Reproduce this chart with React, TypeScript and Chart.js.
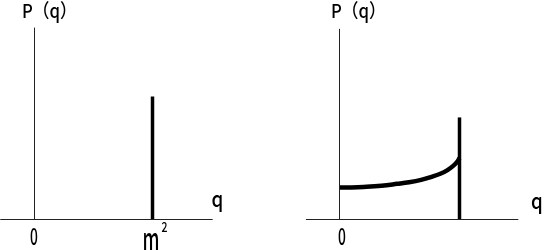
import React, { useEffect, useRef } from "react";
import { Chart, registerables } from "chart.js";
Chart.register(...registerables);

// ---- data (q in units where the spike sits at q = 1, P in arbitrary units) ----
// left panel: single spike at q = m^2
const leftSpikeQ = [1, 1];
const leftSpikeP = [0, 1];
const leftAxisQ = [-0.29, 1.51]; // horizontal axis extent
const leftAxisP = [0, 1.56]; // vertical axis extent

// right panel: continuous part + spike at the end
const curveQ = [0, 0.1, 0.2, 0.35, 0.48, 0.58, 0.68, 0.76, 0.84, 0.9, 0.95, 0.98, 1];
const curveP = [0.26, 0.261, 0.265, 0.275, 0.29, 0.303, 0.322, 0.345, 0.372, 0.402, 0.438, 0.468, 0.5];
const rightSpikeQ = [1, 1];
const rightSpikeP = [0, 0.83];
const rightAxisQ = [-0.28, 1.49];
const rightAxisP = [0, 1.55];

// text
const yAxisTitle = "P（q）";
const xAxisTitle = "q";
const zeroLabel = "0";
const spikeLabel = "m";
const superscript = "2";

type Label = {
  text: string;
  x: number; // pixel x in panel
  y: number; // baseline pixel y
  size: number;
  sx?: number;
  align?: CanvasTextAlign;
};

const labelPlugin = {
  id: "labels",
  afterDraw(chart: any) {
    const labels: Label[] = chart.options.plugins.labels?.items || [];
    const ctx = chart.ctx;
    labels.forEach((l) => {
      ctx.save();
      ctx.translate(l.x, l.y);
      ctx.scale(l.sx ?? 1, 1);
      ctx.font = `500 ${l.size}px 'Noto Sans CJK JP', 'Noto Sans', sans-serif`;
      ctx.fillStyle = "#000";
      ctx.textAlign = l.align ?? "center";
      ctx.textBaseline = "alphabetic";
      ctx.fillText(l.text, 0, 0);
      ctx.restore();
    });
  },
};

const line = (qs: number[], ps: number[], width: number, color = "#000", tension = 0) => ({
  data: qs.map((q, i) => ({ x: q, y: ps[i] })),
  borderColor: color,
  borderWidth: width,
  pointRadius: 0,
  fill: false,
  tension,
  borderCapStyle: "butt" as const,
  borderJoinStyle: "round" as const,
  clip: false as const,
});

function Panel(props: {
  width: number;
  left: number;
  xMin: number;
  xMax: number;
  datasets: any[];
  labels: Label[];
}) {
  const ref = useRef<HTMLCanvasElement | null>(null);
  useEffect(() => {
    if (!ref.current) return;
    const yMax = 219.5 / 123;
    const yMin = yMax - 250 / 123;
    const chart = new Chart(ref.current, {
      type: "line",
      data: { datasets: props.datasets },
      options: {
        animation: false,
        responsive: false,
        devicePixelRatio: 1,
        layout: { padding: 0 },
        scales: {
          x: { type: "linear", min: props.xMin, max: props.xMax, display: false },
          y: { type: "linear", min: yMin, max: yMax, display: false },
        },
        plugins: {
          legend: { display: false },
          tooltip: { enabled: false },
          // @ts-ignore
          labels: { items: props.labels },
        },
      },
      plugins: [labelPlugin],
    });
    return () => chart.destroy();
  }, []);
  return (
    <canvas
      ref={ref}
      width={props.width}
      height={250}
      style={{ position: "absolute", left: props.left, top: 0, width: props.width, height: 250 }}
    />
  );
}

export default function App() {
  const leftXMin = -34.5 / 118;
  const leftXMax = leftXMin + 272 / 118;
  const rightXMin = -67.5 / 120;
  const rightXMax = rightXMin + 273 / 120;

  const leftDatasets = [
    line(leftAxisQ, [0, 0], 1, "#222"),
    line([0, 0], leftAxisP, 1, "#222"),
    line(leftSpikeQ, leftSpikeP, 3.5),
  ];
  const rightDatasets = [
    line(rightAxisQ, [0, 0], 1, "#222"),
    line([0, 0], rightAxisP, 1, "#222"),
    line(curveQ, curveP, 4.5, "#000", 0.4),
    line(rightSpikeQ, rightSpikeP, 3.5),
  ];

  const leftLabels: Label[] = [
    { text: yAxisTitle, x: 22, y: 18, size: 19, sx: 0.88, align: "left" },
    { text: xAxisTitle, x: 211.5, y: 207, size: 22, sx: 0.85, align: "left" },
    { text: zeroLabel, x: 34, y: 245, size: 23, sx: 0.6 },
    { text: spikeLabel, x: 151, y: 250, size: 30, sx: 0.6 },
    { text: superscript, x: 164.5, y: 232, size: 14, sx: 0.75 },
  ];
  const rightLabels: Label[] = [
    { text: yAxisTitle, x: 59, y: 18, size: 19, sx: 0.88, align: "left" },
    { text: xAxisTitle, x: 259, y: 209, size: 22, sx: 0.85, align: "left" },
    { text: zeroLabel, x: 70, y: 245, size: 23, sx: 0.6 },
  ];

  return (
    <div style={{ position: "fixed", left: 0, top: 0, width: 545, height: 250, background: "#fff" }}>
      <Panel width={272} left={0} xMin={leftXMin} xMax={leftXMax} datasets={leftDatasets} labels={leftLabels} />
      <Panel width={273} left={272} xMin={rightXMin} xMax={rightXMax} datasets={rightDatasets} labels={rightLabels} />
    </div>
  );
}
